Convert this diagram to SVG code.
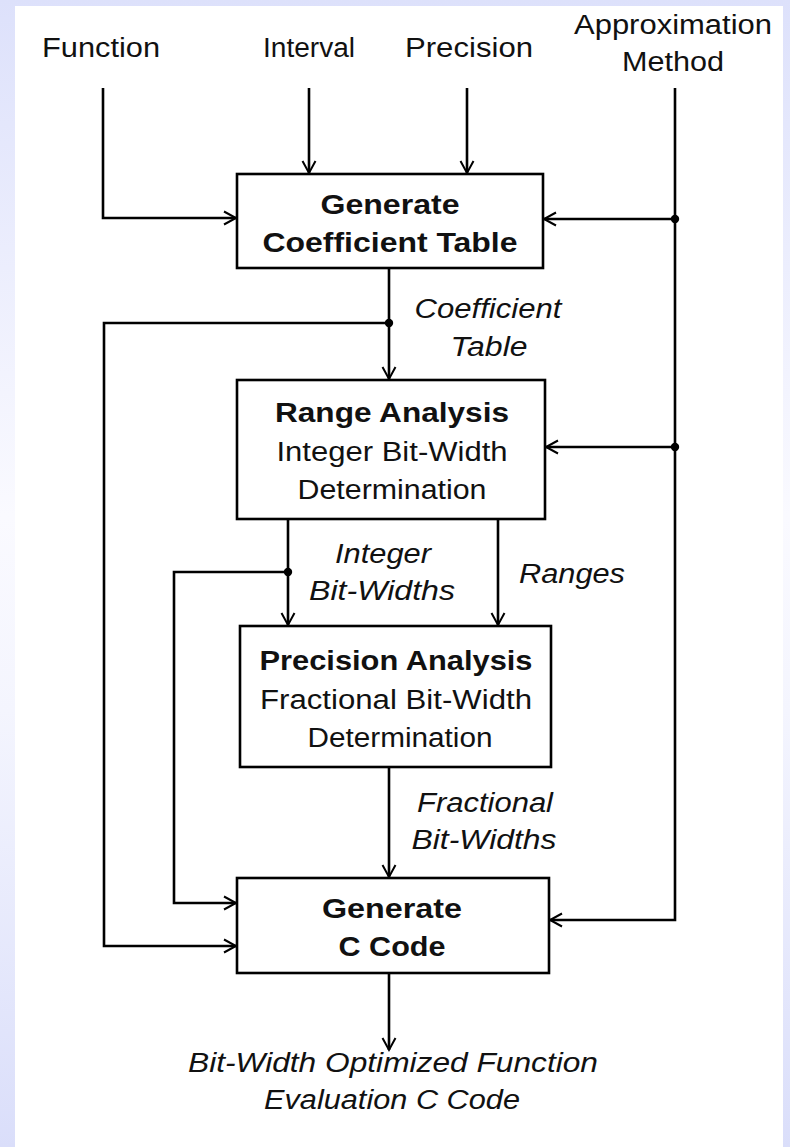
<svg xmlns="http://www.w3.org/2000/svg" width="790" height="1147" viewBox="0 0 790 1147">
  <defs>
    <linearGradient id="bg" x1="0" y1="0" x2="0" y2="1">
      <stop offset="0" stop-color="#dde1fb"/>
      <stop offset="0.45" stop-color="#fafaff"/>
      <stop offset="0.62" stop-color="#f4f5fe"/>
      <stop offset="1" stop-color="#dadefa"/>
    </linearGradient>
    <marker id="arrow" markerWidth="16" markerHeight="16" refX="13" refY="8" orient="auto" markerUnits="userSpaceOnUse">
      <path d="M1,1.5 L13,8 L1,14.5" fill="none" stroke="#000" stroke-width="2"/>
    </marker>
    <style>
      .box { fill: #fff; stroke: #000; stroke-width: 2.6; }
      .wire { fill: none; stroke: #000; stroke-width: 2.6; }
      .dot { fill: #000; }
      text { font-family: "Liberation Sans", Arial, sans-serif; font-size: 27px; fill: #111; text-anchor: middle; }
      .b { font-weight: bold; }
      .i { font-style: italic; }
    </style>
  </defs>

  <!-- page background -->
  <rect x="0" y="0" width="790" height="1147" fill="url(#bg)"/>
  <rect x="15" y="6" width="768" height="1141" fill="#fff"/>

  <!-- external inputs -->
  <g id="inputs">
    <text x="101" y="57" textLength="118" lengthAdjust="spacingAndGlyphs">Function</text>
    <text x="309" y="57" textLength="92" lengthAdjust="spacingAndGlyphs">Interval</text>
    <text x="469" y="57" textLength="128" lengthAdjust="spacingAndGlyphs">Precision</text>
    <text x="673" y="34" textLength="198" lengthAdjust="spacingAndGlyphs">Approximation</text>
    <text x="673" y="71" textLength="102" lengthAdjust="spacingAndGlyphs">Method</text>
  </g>

  <!-- connectors -->
  <g id="connectors">
    <path class="wire" d="M103,88 V218 H236" marker-end="url(#arrow)"/>
    <path class="wire" d="M309,88 V173" marker-end="url(#arrow)"/>
    <path class="wire" d="M467,88 V173" marker-end="url(#arrow)"/>
    <path class="wire" d="M675,88 V920 H550" marker-end="url(#arrow)"/>
    <path class="wire" d="M675,219 H544" marker-end="url(#arrow)"/>
    <path class="wire" d="M675,447 H546" marker-end="url(#arrow)"/>
    <path class="wire" d="M389,268 V379" marker-end="url(#arrow)"/>
    <path class="wire" d="M389,323 H104 V946 H236" marker-end="url(#arrow)"/>
    <path class="wire" d="M288,519 V625" marker-end="url(#arrow)"/>
    <path class="wire" d="M288,572 H174 V903 H236" marker-end="url(#arrow)"/>
    <path class="wire" d="M498,519 V625" marker-end="url(#arrow)"/>
    <path class="wire" d="M389,767 V877" marker-end="url(#arrow)"/>
    <path class="wire" d="M389,973 V1050" marker-end="url(#arrow)"/>
    <circle class="dot" cx="675" cy="219" r="4.2"/>
    <circle class="dot" cx="675" cy="447" r="4.2"/>
    <circle class="dot" cx="389" cy="323" r="4.2"/>
    <circle class="dot" cx="288" cy="572" r="4.2"/>

    <text class="i" x="488" y="318" textLength="147" lengthAdjust="spacingAndGlyphs">Coefficient</text>
    <text class="i" x="489" y="356" textLength="77" lengthAdjust="spacingAndGlyphs">Table</text>
    <text class="i" x="383" y="563" textLength="96" lengthAdjust="spacingAndGlyphs">Integer</text>
    <text class="i" x="382" y="600" textLength="146" lengthAdjust="spacingAndGlyphs">Bit-Widths</text>
    <text class="i" x="572" y="583" textLength="106" lengthAdjust="spacingAndGlyphs">Ranges</text>
    <text class="i" x="485" y="812" textLength="136" lengthAdjust="spacingAndGlyphs">Fractional</text>
    <text class="i" x="484" y="849" textLength="145" lengthAdjust="spacingAndGlyphs">Bit-Widths</text>
  </g>

  <g id="gen-table">
    <rect class="box" x="237" y="174" width="306" height="94"/>
    <text class="b" x="390" y="214" textLength="139" lengthAdjust="spacingAndGlyphs">Generate</text>
    <text class="b" x="390" y="252" textLength="255" lengthAdjust="spacingAndGlyphs">Coefficient Table</text>
  </g>

  <g id="range-analysis">
    <rect class="box" x="237" y="380" width="308" height="139"/>
    <text class="b" x="392" y="422" textLength="234" lengthAdjust="spacingAndGlyphs">Range Analysis</text>
    <text x="392" y="461" textLength="231" lengthAdjust="spacingAndGlyphs">Integer Bit-Width</text>
    <text x="392" y="499" textLength="189" lengthAdjust="spacingAndGlyphs">Determination</text>
  </g>

  <g id="precision-analysis">
    <rect class="box" x="240" y="626" width="311" height="141"/>
    <text class="b" x="396" y="670" textLength="273" lengthAdjust="spacingAndGlyphs">Precision Analysis</text>
    <text x="396" y="709" textLength="272" lengthAdjust="spacingAndGlyphs">Fractional Bit-Width</text>
    <text x="400" y="747" textLength="185" lengthAdjust="spacingAndGlyphs">Determination</text>
  </g>

  <g id="gen-code">
    <rect class="box" x="237" y="878" width="312" height="95"/>
    <text class="b" x="392" y="918" textLength="140" lengthAdjust="spacingAndGlyphs">Generate</text>
    <text class="b" x="392" y="956" textLength="107" lengthAdjust="spacingAndGlyphs">C Code</text>
  </g>

  <g id="output">
    <text class="i" x="393" y="1072" textLength="410" lengthAdjust="spacingAndGlyphs">Bit-Width Optimized Function</text>
    <text class="i" x="392" y="1109" textLength="256" lengthAdjust="spacingAndGlyphs">Evaluation C Code</text>
  </g>
</svg>
